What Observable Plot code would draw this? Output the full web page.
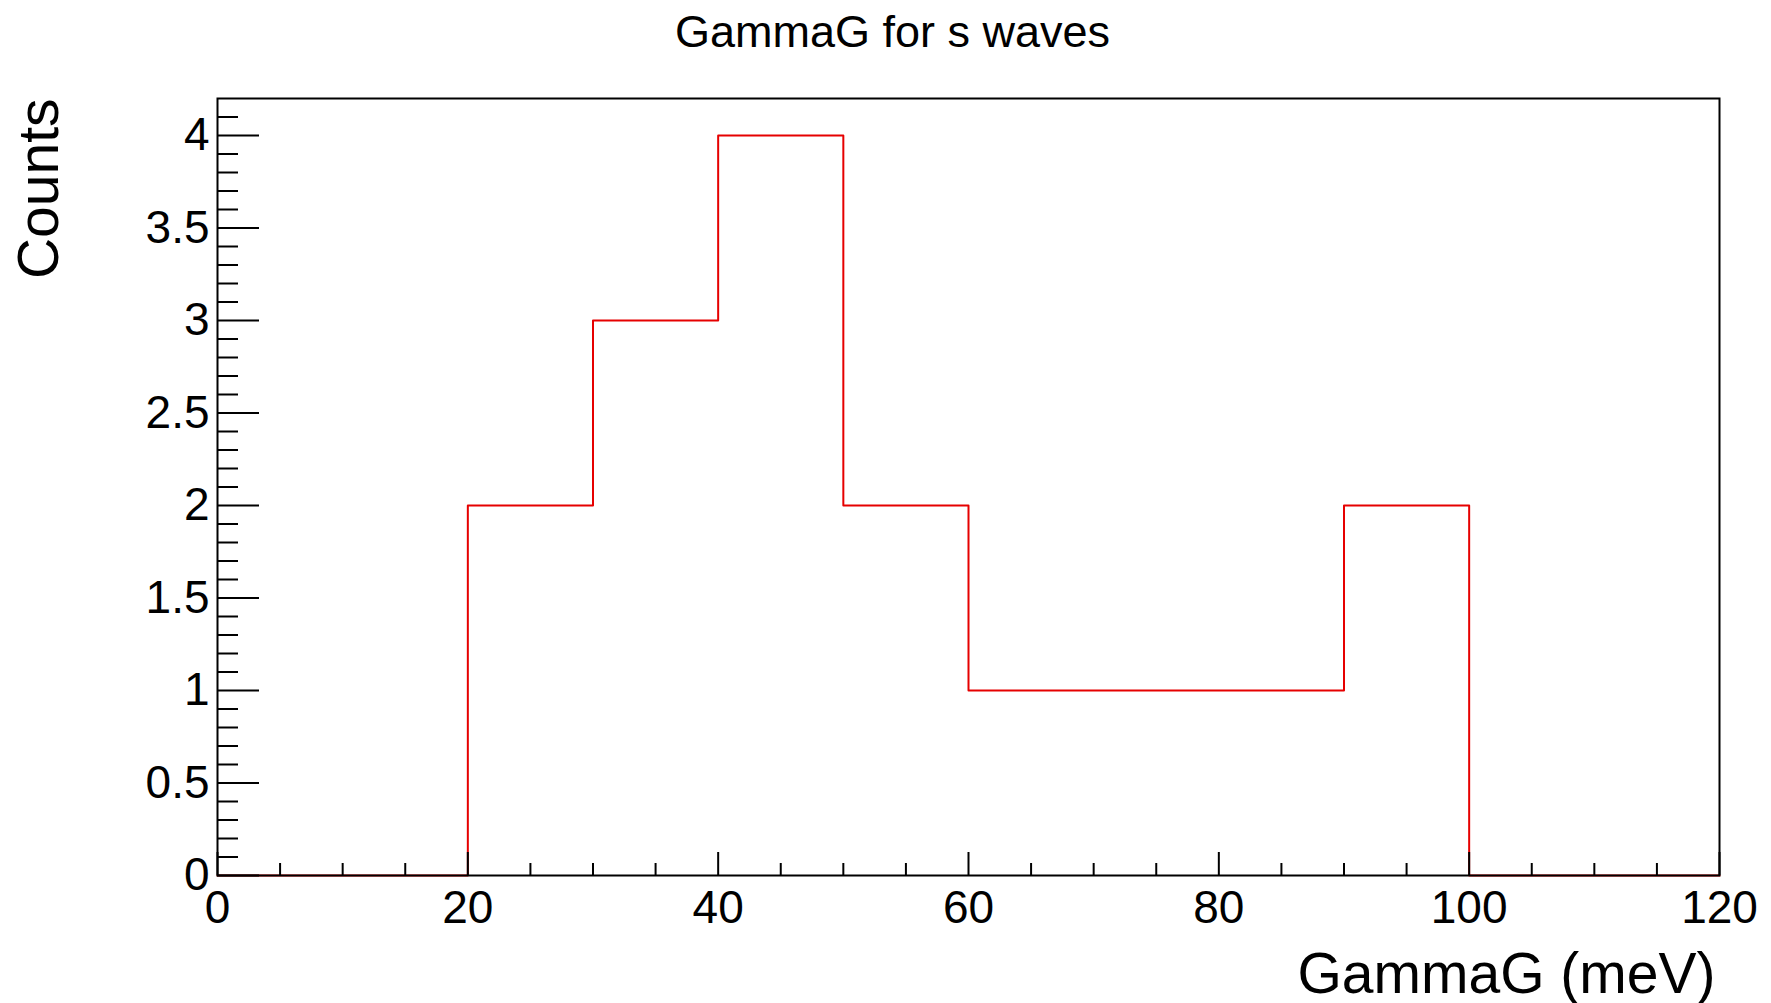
<!DOCTYPE html>
<html>
<head>
<meta charset="utf-8">
<script src="https://cdn.jsdelivr.net/npm/d3@7"></script>
<script src="https://cdn.jsdelivr.net/npm/@observablehq/plot@0.6"></script>
<style>
  html, body { margin: 0; padding: 0; background: #fff; }
  #chart svg { display: block; }
</style>
</head>
<body>
<div id="chart"></div>
<script>
// Histogram: bin edges (meV) and counts per bin
const binEdges = [0, 10, 20, 30, 40, 50, 60, 70, 80, 90, 100, 110, 120];
const counts   = [0, 0, 2, 3, 4, 2, 1, 1, 1, 2, 0, 0];

const xMajorTicks = [0, 20, 40, 60, 80, 100, 120];
const xMinorTicks = [5, 10, 15, 25, 30, 35, 45, 50, 55, 65, 70, 75, 85, 90, 95, 105, 110, 115];
const yMajorTicks = [0, 0.5, 1, 1.5, 2, 2.5, 3, 3.5, 4];
const yMinorTicks = [0.1, 0.2, 0.3, 0.4, 0.6, 0.7, 0.8, 0.9, 1.1, 1.2, 1.3, 1.4, 1.6, 1.7, 1.8, 1.9,
                     2.1, 2.2, 2.3, 2.4, 2.6, 2.7, 2.8, 2.9, 3.1, 3.2, 3.3, 3.4, 3.6, 3.7, 3.8, 3.9, 4.1];

const title = "GammaG for s waves";
const xLabel = "GammaG (meV)";
const yLabel = "Counts";

// step points: each bin start with its count, plus final edge
const stepData = binEdges.map((e, i) => ({x: e, y: counts[Math.min(i, counts.length - 1)]}));

const W = 1771, H = 1003;
const mL = 217, mR = 52, mT = 98, mB = 128;
const plotW = W - mL - mR, plotH = H - mT - mB;
const font = "'Liberation Sans', Arial, Helvetica, sans-serif";

const chart = Plot.plot({
  width: W,
  height: H,
  marginLeft: mL,
  marginRight: mR,
  marginTop: mT,
  marginBottom: mB,
  style: {fontFamily: font, background: "#fff", color: "#000"},
  x: {domain: [0, 120], axis: null},
  y: {domain: [0, 4.2], axis: null},
  marks: [
    Plot.line(stepData, {x: "x", y: "y", curve: "step-after", stroke: "#e60000", strokeWidth: 2}),
    // y ticks (inside)
    Plot.tickY(yMajorTicks, {y: d => d, insetRight: plotW - 42, stroke: "#000", strokeWidth: 2}),
    Plot.tickY(yMinorTicks, {y: d => d, insetRight: plotW - 21, stroke: "#000", strokeWidth: 2}),
    // x ticks (inside)
    Plot.tickX(xMajorTicks, {x: d => d, insetTop: plotH - 23, stroke: "#000", strokeWidth: 2}),
    Plot.tickX(xMinorTicks, {x: d => d, insetTop: plotH - 12, stroke: "#000", strokeWidth: 2}),
    Plot.frame({stroke: "#000", strokeWidth: 2}),
    // tick labels
    Plot.axisY(yMajorTicks, {tickSize: 0, tickPadding: 8, fontSize: 46, label: null, tickFormat: d => String(d)}),
    Plot.axisX(xMajorTicks, {tickSize: 0, tickPadding: 15, fontSize: 46, label: null, tickFormat: d => String(d)}),
    // title and axis titles
    Plot.text([title], {frameAnchor: "top", text: d => d, dx: -76, dy: -83, fontSize: 45}),
    Plot.text([xLabel], {frameAnchor: "bottom-right", text: d => d, textAnchor: "end", dx: -4, dy: 117, fontSize: 57}),
    Plot.text([yLabel], {frameAnchor: "top-left", text: d => d, textAnchor: "end", rotate: -90, dx: -200, dy: 0, fontSize: 57})
  ]
});

document.getElementById("chart").appendChild(chart);
</script>
</body>
</html>
